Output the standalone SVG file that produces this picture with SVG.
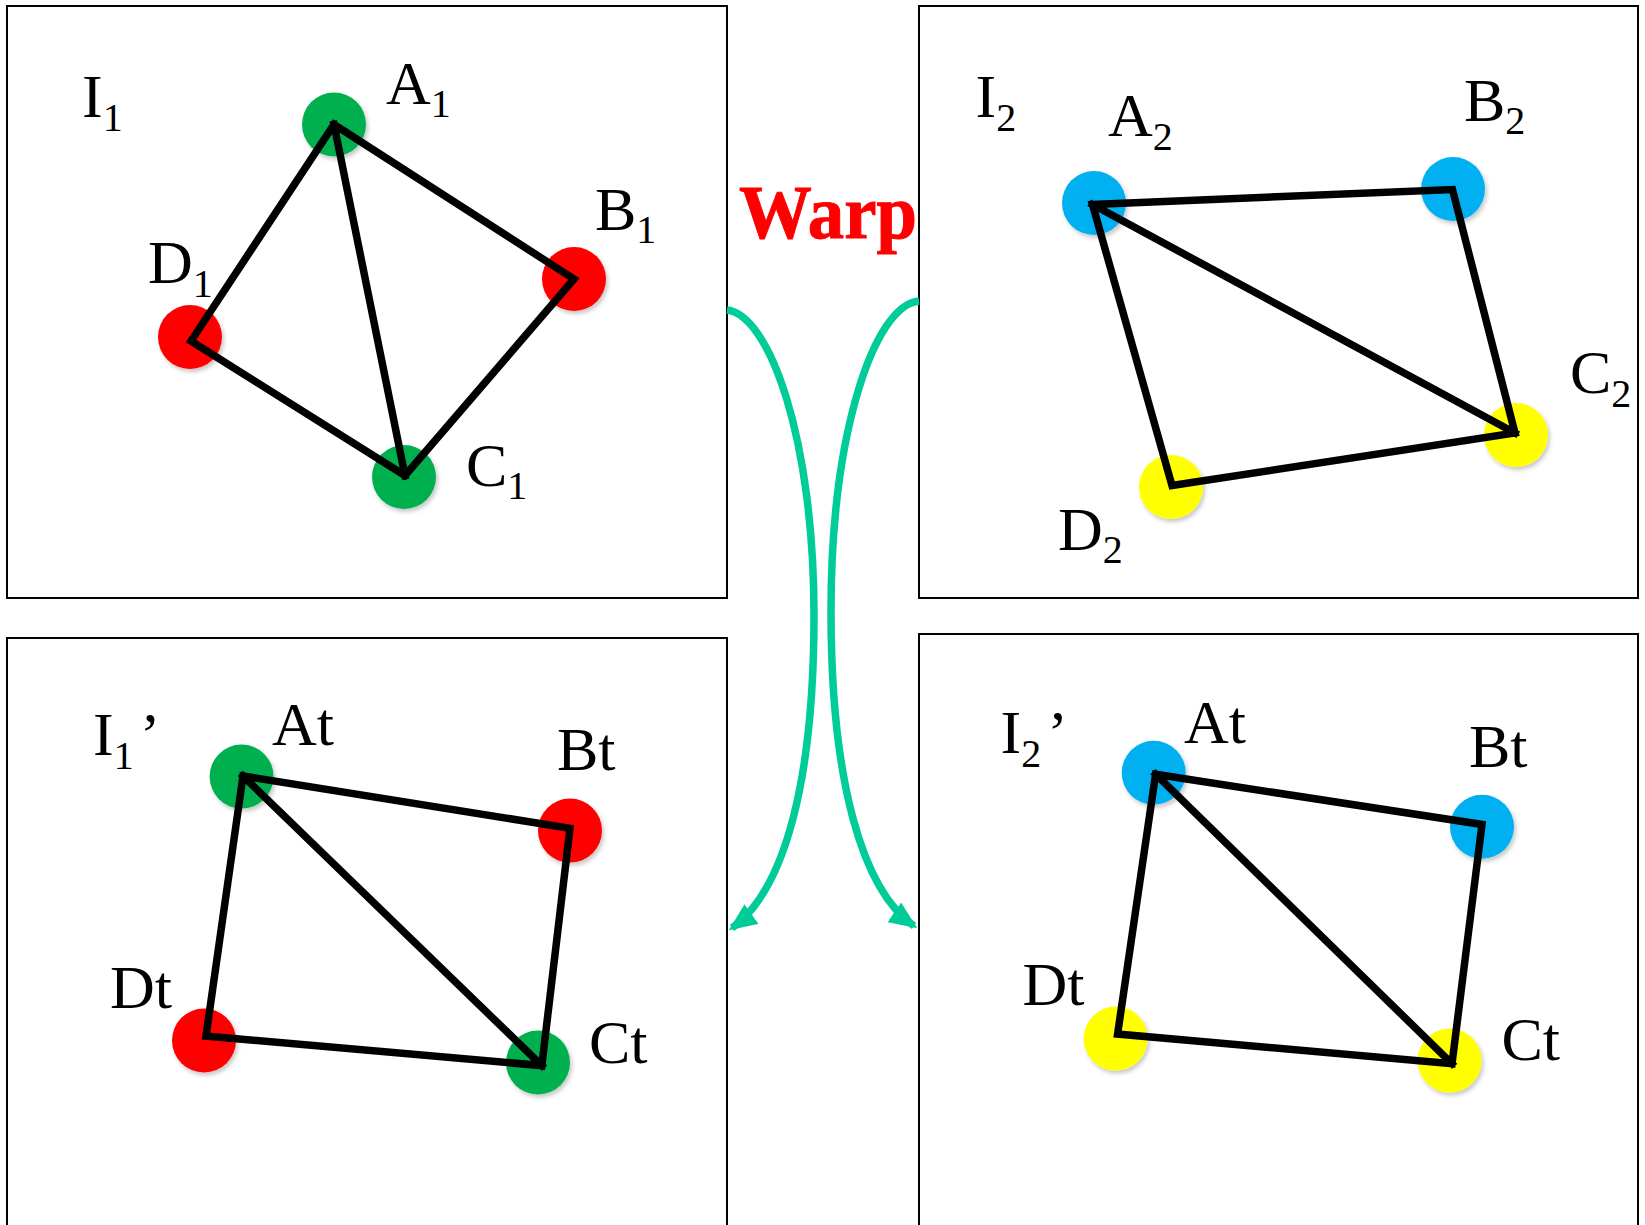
<svg xmlns="http://www.w3.org/2000/svg" width="1645" height="1225" viewBox="0 0 1645 1225">
<style>
.panel{fill:#fff;stroke:#000;stroke-width:2}
.lbl{font-family:"Liberation Serif","Times New Roman",serif;font-size:62px;fill:#000}
.sub{font-size:40px}
.edge{fill:none;stroke:#000;stroke-width:7.5;stroke-linejoin:miter;stroke-linecap:square}
.warp{fill:none;stroke:#00CC99;stroke-width:7.5}
.g{fill:#00B050}.r{fill:#FF0000}.b{fill:#00B0F0}.y{fill:#FFFF00}
</style>
<defs>
<filter id="sh" x="-30%" y="-30%" width="160%" height="160%">
<feDropShadow dx="2" dy="3" stdDeviation="2" flood-color="#000" flood-opacity="0.22"/>
</filter>
<marker id="ah" markerUnits="userSpaceOnUse" markerWidth="28" markerHeight="24" refX="24" refY="12" orient="auto">
<path d="M0,0 L28,12 L0,24 z" fill="#00CC99"/>
</marker>
</defs>
<rect width="1645" height="1225" fill="#fff"/>

<g id="panel-I1">
<rect class="panel" x="7" y="6" width="720" height="592"/>
<text class="lbl" x="82" y="117">I<tspan class="sub" dy="13.5">1</tspan></text>
</g>
<g id="panel-I2">
<rect class="panel" x="919" y="6" width="719" height="592"/>
<text class="lbl" x="975.5" y="117">I<tspan class="sub" dy="13.5">2</tspan></text>
</g>
<g id="panel-I1p">
<rect class="panel" x="7" y="638" width="720" height="610"/>
<text class="lbl" x="93" y="755">I<tspan class="sub" dy="13.5">1</tspan><tspan dy="-13.5" dx="6">’</tspan></text>
</g>
<g id="panel-I2p">
<rect class="panel" x="919" y="634" width="719" height="614"/>
<text class="lbl" x="1000.5" y="753">I<tspan class="sub" dy="13.5">2</tspan><tspan dy="-13.5" dx="6">’</tspan></text>
</g>

<g id="nodes-I1" filter="url(#sh)">
<g id="A1"><circle class="g" cx="334" cy="124.5" r="32"/></g>
<g id="B1"><circle class="r" cx="574" cy="279" r="32"/></g>
<g id="C1"><circle class="g" cx="404" cy="477" r="32"/></g>
<g id="D1"><circle class="r" cx="190" cy="337" r="32"/></g>
</g>
<g id="nodes-I2" filter="url(#sh)">
<g id="A2"><circle class="b" cx="1094" cy="203" r="32"/></g>
<g id="B2"><circle class="b" cx="1453" cy="189" r="32"/></g>
<g id="C2"><circle class="y" cx="1516" cy="435" r="32"/></g>
<g id="D2"><circle class="y" cx="1171" cy="487" r="32"/></g>
</g>
<g id="nodes-I1p" filter="url(#sh)">
<g id="At1"><circle class="g" cx="241.6" cy="776.6" r="32"/></g>
<g id="Bt1"><circle class="r" cx="570" cy="830.6" r="32"/></g>
<g id="Ct1"><circle class="g" cx="538" cy="1062.5" r="32"/></g>
<g id="Dt1"><circle class="r" cx="204" cy="1040.5" r="32"/></g>
</g>
<g id="nodes-I2p" filter="url(#sh)">
<g id="At2"><circle class="b" cx="1153.7" cy="772.8" r="32"/></g>
<g id="Bt2"><circle class="b" cx="1482" cy="826.8" r="32"/></g>
<g id="Ct2"><circle class="y" cx="1449.6" cy="1060.6" r="32"/></g>
<g id="Dt2"><circle class="y" cx="1115.7" cy="1038.6" r="32"/></g>
</g>

<g id="connectors">
<path class="edge" d="M334,124.5 L574,279 L405,475.5 L191,341 Z M334,124.5 L405,475.5"/>
<path class="edge" d="M1092.5,204.5 L1452.5,189.5 L1515,433 L1172,485.5 Z M1092.5,204.5 L1515,433"/>
<path class="edge" d="M243,776 L570,828.3 L541.8,1065.6 L206,1036 Z M243,776 L541.8,1065.6"/>
<path class="edge" d="M1155.6,774.3 L1482,824.5 L1452,1063.7 L1117.6,1034 Z M1155.6,774.3 L1452,1063.7"/>
<path class="warp" marker-end="url(#ah)" d="M727,310 C770,315 814,440 814,615 C814,780 785,890 732,928"/>
<path class="warp" marker-end="url(#ah)" d="M919,301 C875,305 831,430 831,612 C831,780 862,890 914,926"/>
</g>

<g id="labels">
<text class="lbl" x="386" y="104">A<tspan class="sub" dy="13">1</tspan></text>
<text class="lbl" x="595" y="229.6">B<tspan class="sub" dy="13.5">1</tspan></text>
<text class="lbl" x="148" y="283">D<tspan class="sub" dy="14">1</tspan></text>
<text class="lbl" x="466" y="486">C<tspan class="sub" dy="13">1</tspan></text>
<text class="lbl" x="1108" y="136">A<tspan class="sub" dy="13.5">2</tspan></text>
<text class="lbl" x="1464" y="120.6">B<tspan class="sub" dy="13.5">2</tspan></text>
<text class="lbl" x="1570" y="393">C<tspan class="sub" dy="13.5">2</tspan></text>
<text class="lbl" x="1058" y="549.5">D<tspan class="sub" dy="13.5">2</tspan></text>
<text class="lbl" x="272" y="745.4">At</text>
<text class="lbl" x="557" y="769.7">Bt</text>
<text class="lbl" x="110" y="1007.7">Dt</text>
<text class="lbl" x="589" y="1062.5">Ct</text>
<text class="lbl" x="1184" y="742.7">At</text>
<text class="lbl" x="1469" y="766.6">Bt</text>
<text class="lbl" x="1022.5" y="1005">Dt</text>
<text class="lbl" x="1501.5" y="1060">Ct</text>
<text x="739" y="238" font-family="Liberation Serif, Times New Roman, serif" font-weight="bold" font-size="76" fill="#FF0000" stroke="#FF0000" stroke-width="1" textLength="178" lengthAdjust="spacingAndGlyphs">Warp</text>
</g>
</svg>
